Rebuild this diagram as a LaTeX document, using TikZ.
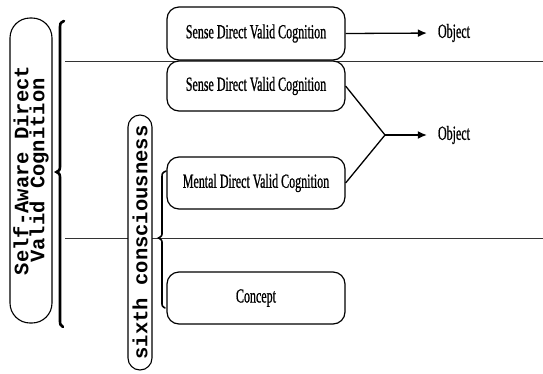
\documentclass[tikz,border=0pt]{standalone}
\usepackage{fontspec}
\usetikzlibrary{arrows.meta}
\newfontfamily\boxfont[FakeStretch=0.6,FakeBold=0.8]{Liberation Serif}
\newfontfamily\ovalfont{Liberation Mono}
\begin{document}
\begin{tikzpicture}[x=1pt,y=-1pt,
  cogbox/.style={draw,line width=1.2pt,rounded corners=12pt,fill=white,
    minimum width=178pt,inner sep=0pt,font=\boxfont\fontsize{20}{20}\selectfont},
  objtext/.style={inner sep=0pt,font=\boxfont\fontsize{20}{20}\selectfont},
  ovalbox/.style={draw,line width=1.1pt,fill=white,rotate=90,inner sep=0pt,
    align=center,font=\ovalfont\bfseries\fontsize{20.5}{13}\selectfont},
  divider/.style={line width=0.7pt,black!80},
  flow/.style={line width=1.3pt},
  arrowtip/.style={-{Latex[length=9pt,width=8pt]}}]
\useasboundingbox (0,0) rectangle (543,373);

% horizontal dividers
\draw[divider] (65,61) -- (543,61);
\draw[divider] (65,238) -- (543,238);

% vertical labels
\node[ovalbox,minimum width=305pt,minimum height=42pt,rounded corners=20pt]
  (selfaware) at (31,170.5) {Self-Aware Direct\\Valid Cognition};
\node[ovalbox,minimum width=255pt,minimum height=24pt,rounded corners=12pt]
  (sixth) at (140,242.5) {sixth consciousness};

% braces
\draw[line width=2.6pt,line cap=round]
  (64,21) .. controls (60,23) .. (60,30) -- (60,164)
  .. controls (60,170) .. (56.5,172) .. controls (60,174) .. (60,180)
  -- (60,318) .. controls (60,325) .. (63,327);
\draw[line width=1.6pt,line cap=round]
  (166,171) .. controls (162,173) .. (162,178) -- (162,232)
  .. controls (162,236) .. (158.5,238) .. controls (162,240) .. (162,244)
  -- (162,302) .. controls (162,306) .. (165,308);

% cognition boxes
\node[cogbox,minimum height=53pt] (sense1) at (256,33.5) {Sense Direct Valid Cognition};
\node[cogbox,minimum height=50pt] (sense2) at (256,86) {Sense Direct Valid Cognition};
\node[cogbox,minimum height=52pt] (mental) at (256,183) {Mental Direct Valid Cognition};
\node[cogbox,minimum height=52pt] (concept) at (256,298) {Concept};

% objects
\node[objtext] (object1) at (454,33) {Object};
\node[objtext] (object2) at (454,135) {Object};
\coordinate (join) at (385,135);

\draw[flow,arrowtip,shorten >=11pt] (sense1.east) -- (object1.west);
\draw[flow] (sense2.east) -- (join);
\draw[flow] (mental.east) -- (join);
\draw[flow,arrowtip,shorten >=11pt] (join) -- (object2.west);
\end{tikzpicture}
\end{document}
